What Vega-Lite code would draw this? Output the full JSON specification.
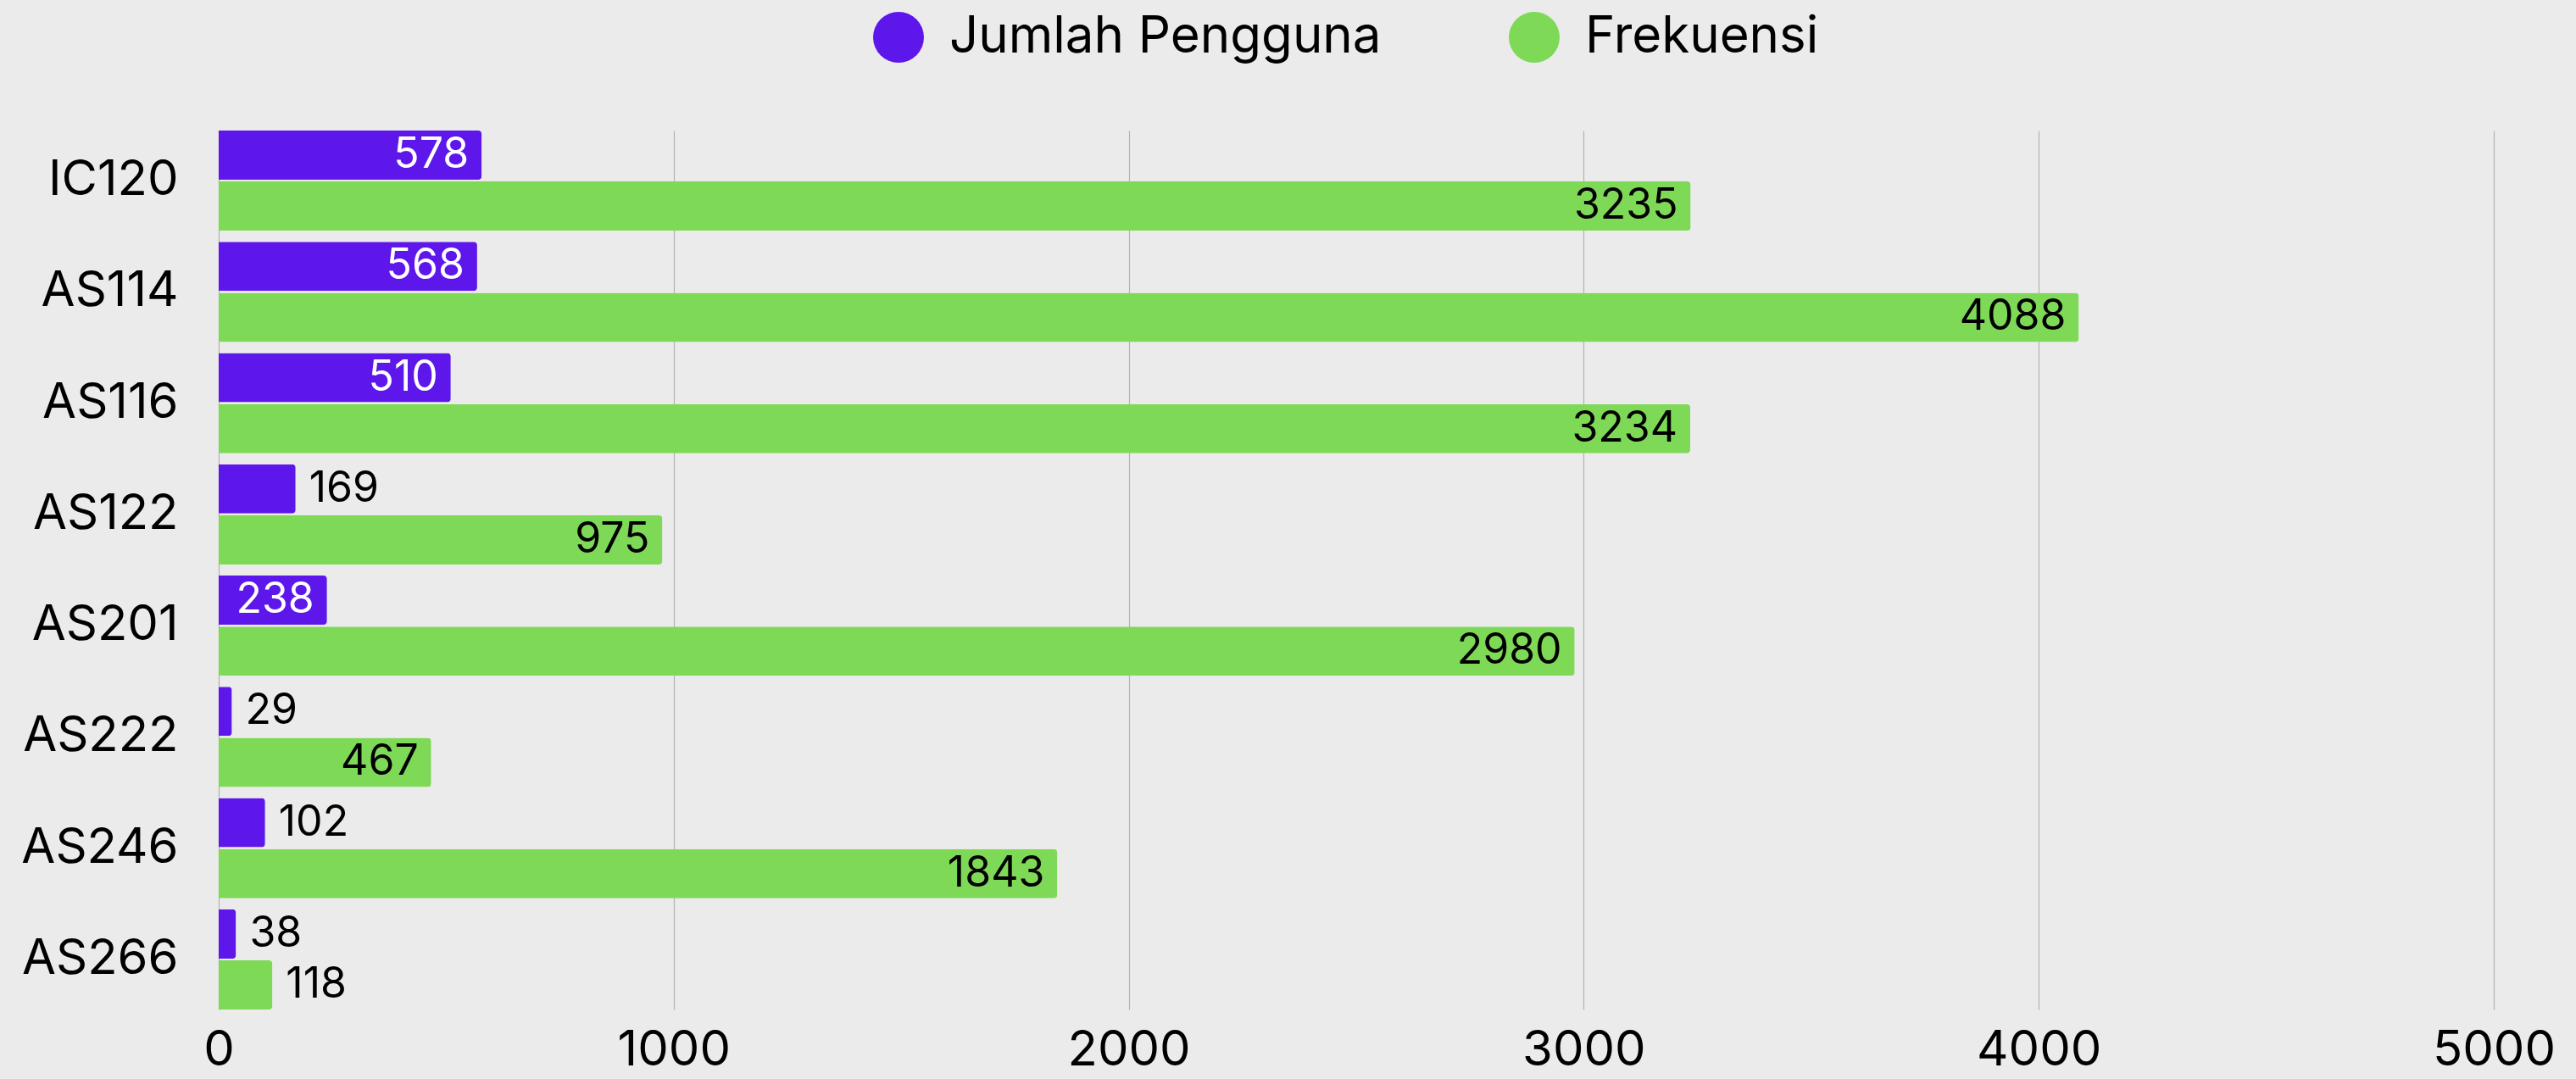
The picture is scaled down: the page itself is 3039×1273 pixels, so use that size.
{
  "$schema": "https://vega.github.io/schema/vega-lite/v6.json",
  "width": 2684,
  "height": 1037,
  "autosize": {"type": "none"},
  "padding": {"left": 258, "top": 154, "right": 97, "bottom": 82},
  "background": "#ebebeb",
  "config": {
    "view": {"stroke": null},
    "font": "Inter",
    "axis": {"labelFont": "Inter", "labelColor": "#000000", "domain": false, "ticks": false}
  },
  "data": {
    "values": [
      {"kode": "IC120", "seri": "Jumlah Pengguna", "nilai": 578},
      {"kode": "IC120", "seri": "Frekuensi", "nilai": 3235},
      {"kode": "AS114", "seri": "Jumlah Pengguna", "nilai": 568},
      {"kode": "AS114", "seri": "Frekuensi", "nilai": 4088},
      {"kode": "AS116", "seri": "Jumlah Pengguna", "nilai": 510},
      {"kode": "AS116", "seri": "Frekuensi", "nilai": 3234},
      {"kode": "AS122", "seri": "Jumlah Pengguna", "nilai": 169},
      {"kode": "AS122", "seri": "Frekuensi", "nilai": 975},
      {"kode": "AS201", "seri": "Jumlah Pengguna", "nilai": 238},
      {"kode": "AS201", "seri": "Frekuensi", "nilai": 2980},
      {"kode": "AS222", "seri": "Jumlah Pengguna", "nilai": 29},
      {"kode": "AS222", "seri": "Frekuensi", "nilai": 467},
      {"kode": "AS246", "seri": "Jumlah Pengguna", "nilai": 102},
      {"kode": "AS246", "seri": "Frekuensi", "nilai": 1843},
      {"kode": "AS266", "seri": "Jumlah Pengguna", "nilai": 38},
      {"kode": "AS266", "seri": "Frekuensi", "nilai": 118}
    ]
  },
  "encoding": {
    "y": {
      "field": "kode",
      "type": "nominal",
      "sort": ["IC120", "AS114", "AS116", "AS122", "AS201", "AS222", "AS246", "AS266"],
      "scale": {"paddingInner": 0.1, "paddingOuter": 0},
      "axis": {"title": null, "labelFontSize": 58, "labelPadding": 48, "labelLimit": 400, "grid": false}
    },
    "yOffset": {
      "field": "seri",
      "type": "nominal",
      "sort": ["Jumlah Pengguna", "Frekuensi"],
      "scale": {"paddingInner": 0.035, "paddingOuter": 0}
    },
    "x": {
      "field": "nilai",
      "type": "quantitative",
      "scale": {"domain": [0, 5000], "nice": false},
      "axis": {
        "title": null,
        "values": [0, 1000, 2000, 3000, 4000, 5000],
        "labelFontSize": 58,
        "labelPadding": 19,
        "labelFlush": false,
        "grid": true,
        "gridColor": "#b3b3b3",
        "gridWidth": 1.2,
        "format": "d"
      }
    }
  },
  "layer": [
    {
      "mark": {"type": "bar", "cornerRadiusEnd": 4},
      "encoding": {
        "color": {
          "field": "seri",
          "type": "nominal",
          "scale": {"domain": ["Jumlah Pengguna", "Frekuensi"], "range": ["#5E17EB", "#7ED957"]},
          "legend": {
            "orient": "none",
            "legendX": 772,
            "legendY": -140,
            "direction": "horizontal",
            "title": null,
            "symbolType": "circle",
            "symbolSize": 3600,
            "symbolStrokeWidth": 0,
            "symbolOpacity": 1,
            "labelFontSize": 60,
            "labelFont": "Inter",
            "labelColor": "#000000",
            "labelOffset": 30,
            "columnPadding": 150,
            "labelLimit": 1000
          }
        }
      }
    },
    {
      "transform": [{"filter": "datum.nilai >= 200"}],
      "mark": {"type": "text", "align": "right", "baseline": "middle", "dx": -15, "fontSize": 50, "font": "Inter"},
      "encoding": {
        "text": {"field": "nilai", "type": "quantitative", "format": "d"},
        "color": {
          "condition": {"test": "datum.seri == 'Jumlah Pengguna'", "value": "#ffffff"},
          "value": "#000000"
        }
      }
    },
    {
      "transform": [{"filter": "datum.nilai < 200"}],
      "mark": {"type": "text", "align": "left", "baseline": "middle", "dx": 16, "fontSize": 50, "font": "Inter", "color": "#000000"},
      "encoding": {
        "text": {"field": "nilai", "type": "quantitative", "format": "d"}
      }
    }
  ]
}
